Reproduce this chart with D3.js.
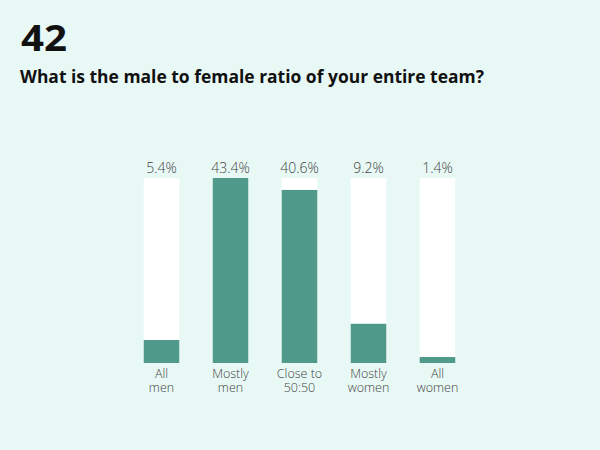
<!DOCTYPE html>
<html>
<head>
<meta charset="utf-8">
<script src="https://cdn.jsdelivr.net/npm/d3@7"></script>
<style>
  body { margin: 0; background: #e8f8f5; }
  svg { display: block; }
</style>
</head>
<body>
<div id="chart"></div>
<script>
const categories = ['All men', 'Mostly men', 'Close to 50:50', 'Mostly women', 'All women'];
const labelLines = [['All', 'men'], ['Mostly', 'men'], ['Close to', '50:50'], ['Mostly', 'women'], ['All', 'women']];
const values = [5.4, 43.4, 40.6, 9.2, 1.4];

const width = 600, height = 450;

const svg = d3.select('#chart')
    .append('svg')
    .attr('width', width)
    .attr('height', height);

svg.append('rect')
    .attr('width', width)
    .attr('height', height)
    .attr('fill', '#e8f8f5');

// Headings
svg.append('text')
    .attr('x', 21)
    .attr('y', 51)
    .style('font-family', '"Open Sans", sans-serif')
    .style('font-weight', 700)
    .style('font-size', '36px')
    .attr('fill', '#111')
    .attr('textLength', 46)
    .attr('lengthAdjust', 'spacingAndGlyphs')
    .text('42');

svg.append('text')
    .attr('x', 20)
    .attr('y', 83)
    .style('font-family', '"Open Sans", sans-serif')
    .style('font-weight', 700)
    .style('font-size', '17px')
    .attr('fill', '#111')
    .attr('textLength', 464)
    .attr('lengthAdjust', 'spacingAndGlyphs')
    .text('What is the male to female ratio of your entire team?');

const x = d3.scaleBand()
    .domain(categories)
    .range([127, 472])
    .paddingInner(0.485)
    .paddingOuter(0.2425);

const y = d3.scaleLinear()
    .domain([0, d3.max(values)])
    .range([363, 178]);

// Background (full) bars
svg.selectAll('.bg')
    .data(categories)
    .enter()
    .append('rect')
    .attr('class', 'bg')
    .attr('x', d => x(d))
    .attr('y', y(d3.max(values)))
    .attr('width', x.bandwidth())
    .attr('height', y(0) - y(d3.max(values)))
    .attr('fill', '#ffffff');

// Value bars
svg.selectAll('.bar')
    .data(values)
    .enter()
    .append('rect')
    .attr('class', 'bar')
    .attr('x', (d, i) => x(categories[i]))
    .attr('y', d => y(d))
    .attr('width', x.bandwidth())
    .attr('height', d => y(0) - y(d))
    .attr('fill', '#4f9a8b');

// Value labels
svg.selectAll('.val')
    .data(values)
    .enter()
    .append('text')
    .attr('class', 'val')
    .attr('x', (d, i) => x(categories[i]) + x.bandwidth() / 2)
    .attr('y', 173)
    .attr('text-anchor', 'middle')
    .style('font-family', '"Open Sans", sans-serif')
    .style('font-weight', 300)
    .style('font-size', '14px')
    .attr('fill', '#444')
    .text(d => d.toFixed(1) + '%');

// Category labels, one text per line
labelLines.forEach((lines, i) => {
    svg.selectAll(null)
        .data(lines)
        .enter()
        .append('text')
        .attr('class', 'cat')
        .attr('x', x(categories[i]) + x.bandwidth() / 2)
        .attr('y', (d, j) => 378 + j * 13.5)
        .attr('text-anchor', 'middle')
        .style('font-family', '"Open Sans", sans-serif')
        .style('font-weight', 300)
        .style('font-size', '12.5px')
        .attr('fill', '#444')
        .text(d => d);
});
</script>
</body>
</html>
